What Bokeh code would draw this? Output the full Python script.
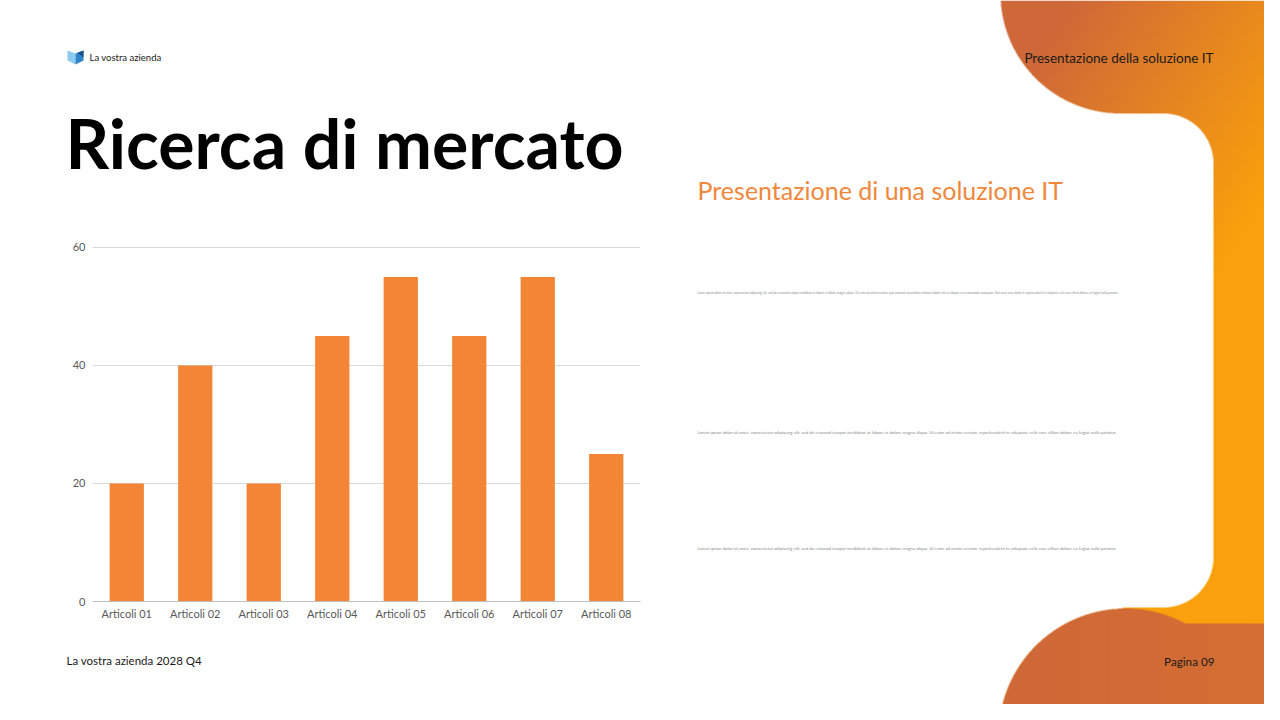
import numpy as np
from bokeh.plotting import figure
from bokeh.layouts import row, column
from bokeh.models import Range1d, FactorRange, FixedTicker
from bokeh.core.properties import value
from bokeh.embed import file_html
from bokeh.resources import INLINE

# ---------------- data ----------------
categories = ["Articoli 01", "Articoli 02", "Articoli 03", "Articoli 04",
              "Articoli 05", "Articoli 06", "Articoli 07", "Articoli 08"]
values = [20, 40, 20, 45, 55, 45, 55, 25]
y_ticks = [0, 20, 40, 60]

company = "La vostra azienda"
title_text = "Ricerca di mercato"
header_right = "Presentazione della soluzione IT"
subtitle = "Presentazione di una soluzione IT"
footer_left = "La vostra azienda 2028 Q4"
footer_right = "Pagina 09"
lorem_long = ("Lorem ipsum dolor sit amet, consectetur adipiscing elit, sed do eiusmod tempor "
              "incididunt ut labore et dolore magna aliqua. Ut enim ad minim veniam, quis nostrud "
              "exercitation ullamco laboris nisi ut aliquip ex ea commodo consequat. Duis aute irure "
              "dolor in reprehenderit in voluptate velit esse cillum dolore eu fugiat nulla pariatur.")
lorem_short = ("Lorem ipsum dolor sit amet, consectetur adipiscing elit, sed do eiusmod tempor "
               "incididunt ut labore et dolore magna aliqua. Ut enim ad minim veniam, "
               "reprehenderit in voluptate velit esse cillum dolore eu fugiat nulla pariatur.")

FONT = value("Lato")
BAR = "#F28536"
ORANGE_TXT = "#F0873A"

PAGE_W, PAGE_H = 1264, 704
SPLIT_X = 660


def no_align(p):
    try:
        p.frame_align = False
    except Exception as e:  # older bokeh
        print("frame_align unsupported:", e)


def deco(x0, x1, y0, y1):
    p = figure(width=x1 - x0, height=y1 - y0, x_range=Range1d(x0, x1),
               y_range=Range1d(-y1, -y0), min_border=0, toolbar_location=None,
               output_backend="svg", title=None)
    p.axis.visible = False
    p.grid.visible = False
    p.outline_line_color = None
    p.background_fill_color = "white"
    p.border_fill_color = "white"
    no_align(p)
    return p


def txt(p, x, y, s, size, color="#1a1a1a", align="left", style="normal"):
    p.text(x=[x], y=[-y], text=[s], text_font=FONT, text_font_size=size,
           text_color=color, text_align=align, text_baseline="middle",
           text_font_style=style)


# ---------------- header (left) ----------------
hdr = deco(0, SPLIT_X, 0, 225)
hdr.patch([67, 75, 75, 67], [-50, -53, -64, -60], color="#8CCBEF", line_color=None)
hdr.patch([75, 83, 83, 75], [-53, -50, -60, -64], color="#2E86C8", line_color=None)
hdr.patch([77, 83, 83], [-52.3, -50, -57], color="#1B4F8C", line_color=None)
txt(hdr, 89, 57, company, "9.5px")
txt(hdr, 65, 141.5, title_text, "68px", color="#000000", style="bold")

# ---------------- chart ----------------
ch = figure(x_range=FactorRange(*categories, range_padding=0), y_range=Range1d(0, 60.5),
            frame_width=548, frame_height=357,
            min_border_left=92, min_border_right=20, min_border_top=19, min_border_bottom=34,
            toolbar_location=None, output_backend="svg", title=None)
no_align(ch)
ch.vbar(x=categories, top=values, width=0.5, color=BAR, line_color=None)
ch.outline_line_color = None
ch.background_fill_color = "white"
ch.border_fill_color = "white"
ch.xgrid.visible = False
ch.ygrid.ticker = FixedTicker(ticks=y_ticks)
ch.ygrid.grid_line_color = "#D9D9D9"
ch.yaxis.ticker = FixedTicker(ticks=y_ticks)
ch.yaxis.axis_line_color = None
ch.yaxis.major_label_standoff = 7
ch.xaxis.axis_line_color = "#BFBFBF"
ch.xaxis.major_label_standoff = 5
for ax in (ch.xaxis, ch.yaxis):
    ax.major_tick_line_color = None
    ax.minor_tick_line_color = None
    ax.major_tick_out = 0
    ax.major_tick_in = 0
    ax.minor_tick_out = 0
    ax.major_label_text_font = "Lato"
    ax.major_label_text_font_size = "11px"
    ax.major_label_text_color = "#595959"

# ---------------- footer (left) ----------------
ftr = deco(0, SPLIT_X, 635, PAGE_H)
txt(ftr, 66, 660, footer_left, "11.5px")

# ---------------- right side ----------------
rt = deco(SPLIT_X, PAGE_W, 0, PAGE_H)

S = 2
IX0, IX1, IY0, IY1 = 990, PAGE_W, 0, PAGE_H
W, H = IX1 - IX0, IY1 - IY0
xs = IX0 + (np.arange(W * S) + 0.5) / S
ys = IY0 + (np.arange(H * S) + 0.5) / S
X, Y = np.meshgrid(xs, ys)
top = (X - 1120) ** 2 + (Y + 7) ** 2 <= 120 ** 2
bot = (X - 1125) ** 2 + (Y - 735) ** 2 <= 127 ** 2
orange = top | bot | (X >= 1122)
card = (Y >= 113) & (Y <= 607) & (X <= 1213)
card &= ~((X > 1163) & (Y < 163) & ((X - 1163) ** 2 + (Y - 163) ** 2 > 50 ** 2))
card &= ~((X > 1163) & (Y > 557) & ((X - 1163) ** 2 + (Y - 557) ** 2 > 50 ** 2))
orange &= ~card
brown = np.array([207, 104, 56], float)
bright = np.array([250, 160, 12], float)
t = np.clip(((X - 1060) * 0.8 + (Y - 20) * 0.5) / 250.0, 0, 1)
band = bot | ((X >= 1125) & (Y >= 623))
t = np.where(band, 0.12 * np.clip((X - 1000) / 280.0, 0, 1), t)
rgb = brown[None, None, :] + t[..., None] * (bright - brown)[None, None, :]
a = orange.astype(float)


def down(arr):
    sh = arr.shape
    return arr.reshape(sh[0] // S, S, sh[1] // S, S, *sh[2:]).mean(axis=(1, 3))


rgb_d = down(rgb)
a_d = down(a)
img = np.zeros((H, W), dtype=np.uint32)
view = img.view(dtype=np.uint8).reshape((H, W, 4))
view[..., 0] = rgb_d[..., 0].astype(np.uint8)
view[..., 1] = rgb_d[..., 1].astype(np.uint8)
view[..., 2] = rgb_d[..., 2].astype(np.uint8)
view[..., 3] = (a_d * 255).round().astype(np.uint8)
rt.image_rgba(image=[np.flipud(img).copy()], x=IX0, y=-IY1, dw=W, dh=H)

txt(rt, 1213, 57, header_right, "13.5px", align="right")
txt(rt, 697, 189, subtitle, "25px", color=ORANGE_TXT)
txt(rt, 697, 292, lorem_long, "2.93px", color="#8A8A8A")
txt(rt, 697, 432, lorem_short, "4.3px", color="#8A8A8A")
txt(rt, 697, 548, lorem_short, "4.3px", color="#8A8A8A")
txt(rt, 1214, 660, footer_right, "11.7px", align="right")

left = column(hdr, ch, ftr, spacing=0)
page = row(left, rt, spacing=0)

open("out.html", "w").write(file_html(page, INLINE))
